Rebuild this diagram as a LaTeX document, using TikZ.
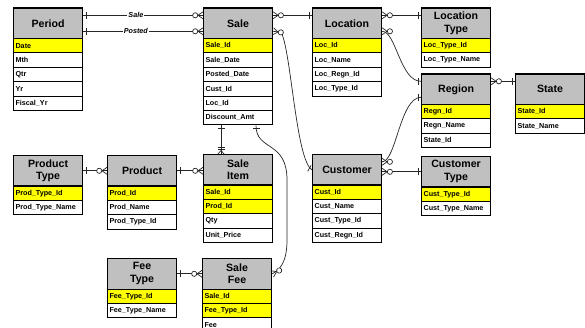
\documentclass[tikz,border=0pt]{standalone}
\usepackage{fontspec}
\setmainfont{Liberation Sans}
\usetikzlibrary{calc}
\definecolor{hdrgray}{HTML}{C0C0C0}
\definecolor{keyyel}{HTML}{FFFF00}
\tikzset{
 hdr/.style={draw=black, line width=1.1pt, fill=hdrgray, minimum width=69pt, minimum height=30.5pt, anchor=north west, inner sep=0pt, align=center, font=\bfseries\fontsize{10.6}{12.8}\selectfont},
 rowbase/.style={draw=black, line width=1.1pt, minimum width=69pt, minimum height=14.4pt, anchor=north west, inner xsep=2pt, inner ysep=0pt, text width=65pt, align=left, font=\bfseries\fontsize{7.2}{8}\selectfont},
 rel/.style={draw=black!85, line width=0.7pt},
 lbl/.style={fill=white, inner sep=1pt, font=\bfseries\itshape\fontsize{7.2}{8}\selectfont},
}
\newcommand\entity[5]{%
  \node[hdr] (#1) at (#2,#3) {#4};
  \foreach \fc/\tx [count=\i] in {#5} {
    \node[rowbase, fill=\fc] (#1-\i) at ({#2},{#3+30.5+14.4*(\i-1)}) {\tx};
  }
}
\newcommand\mone[2]{\begin{scope}[shift={#1},rotate=#2]\draw[rel] (3,-3.5)--(3,3.5);\end{scope}}
\newcommand\mmany[2]{\begin{scope}[shift={#1},rotate=#2]
 \draw[rel] (0,-3.5)--(5,0)--(0,3.5);
 \draw[rel,fill=white] (7.8,0) circle (2.6);
\end{scope}}
\newcommand\monemany[2]{\begin{scope}[shift={#1},rotate=#2]
 \draw[rel] (0,-3)--(3.5,0)--(0,3);
 \draw[rel] (4.5,-3.5)--(4.5,3.5);
 \draw[rel] (6.5,-3.5)--(6.5,3.5);
\end{scope}}
\begin{document}
\begin{tikzpicture}[x=1pt,y=-1pt]
\useasboundingbox (0,0) rectangle (585,328);
\clip (0,0) rectangle (585,328);
\entity{period}{13}{7.5}{Period}{keyyel/Date, white/Mth, white/Qtr, white/Yr, white/Fiscal\_Yr}
\entity{sale}{203}{7.5}{Sale}{keyyel/Sale\_Id, white/Sale\_Date, white/Posted\_Date, white/Cust\_Id, white/Loc\_Id, white/Discount\_Amt}
\entity{location}{312}{7.5}{Location}{keyyel/Loc\_Id, white/Loc\_Name, white/Loc\_Regn\_Id, white/Loc\_Type\_Id}
\entity{loctype}{421}{7.5}{Location\\Type}{keyyel/Loc\_Type\_Id, white/Loc\_Type\_Name}
\entity{region}{421}{73.5}{Region}{keyyel/Regn\_Id, white/Regn\_Name, white/State\_Id}
\entity{state}{515}{73.5}{State}{keyyel/State\_Id, white/State\_Name}
\entity{prodtype}{13}{155}{Product\\Type}{keyyel/Prod\_Type\_Id, white/Prod\_Type\_Name}
\entity{product}{107}{155}{Product}{keyyel/Prod\_Id, white/Prod\_Name, white/Prod\_Type\_Id}
\entity{saleitem}{203}{154}{Sale\\Item}{keyyel/Sale\_Id, keyyel/Prod\_Id, white/Qty, white/Unit\_Price}
\entity{customer}{312}{154}{Customer}{keyyel/Cust\_Id, white/Cust\_Name, white/Cust\_Type\_Id, white/Cust\_Regn\_Id}
\entity{custtype}{421}{156}{Customer\\Type}{keyyel/Cust\_Type\_Id, white/Cust\_Type\_Name}
\entity{feetype}{107}{258}{Fee\\Type}{keyyel/Fee\_Type\_Id, white/Fee\_Type\_Name}
\entity{salefee}{202}{258}{Sale\\Fee}{keyyel/Sale\_Id, keyyel/Fee\_Type\_Id, white/Fee}

% Period - Sale
\draw[rel] ($(period.east)+(0,-8)$) -- node[lbl,pos=0.44]{Sale} ($(sale.west)+(0,-8)$);
\draw[rel] ($(period.east)+(0,8)$) -- node[lbl,pos=0.44]{Posted} ($(sale.west)+(0,8)$);
\mone{($(period.east)+(0,-8)$)}{0}
\mone{($(period.east)+(0,8)$)}{0}
\mmany{($(sale.west)+(0,-8)$)}{180}
\mmany{($(sale.west)+(0,8)$)}{180}
% Sale - Location
\draw[rel] ($(sale.east)+(0,-8)$) -- ($(location.west)+(0,-8)$);
\mmany{($(sale.east)+(0,-8)$)}{0}
\mone{($(location.west)+(0,-8)$)}{180}
% Location - Location Type
\draw[rel] ($(location.east)+(0,-8)$) -- ($(loctype.west)+(0,-8)$);
\mmany{($(location.east)+(0,-8)$)}{0}
\mone{($(loctype.west)+(0,-8)$)}{180}
% Location - Region
\draw[rel] ($(location.east)+(0,8)$) .. controls +(14,0) and +(-21,0) .. ($(region.west)+(0,-8)$);
\mmany{($(location.east)+(0,8)$)}{0}
\mone{($(region.west)+(0,-8)$)}{180}
% Region - State
\draw[rel] ($(region.east)+(0,-8)$) -- ($(state.west)+(0,-8)$);
\mmany{($(region.east)+(0,-8)$)}{0}
\mone{($(state.west)+(0,-8)$)}{180}
% Customer - Region
\draw[rel] ($(customer.east)+(0,-8)$) .. controls +(14,0) and +(-21,0) .. ($(region.west)+(0,8)$);
\mmany{($(customer.east)+(0,-8)$)}{0}
\mone{($(region.west)+(0,8)$)}{180}
% Customer - Customer Type
\draw[rel] (customer.east |- custtype.west) -- (custtype.west);
\mmany{(customer.east |- custtype.west)}{0}
\mone{(custtype.west)}{180}
% Sale - Customer
\draw[rel] ($(sale.east)+(0,8)$) -- ++(8,1) .. controls +(10,18) and +(-16,-9) .. (customer.west);
\mmany{($(sale.east)+(0,8)$)}{-8}
\mone{(customer.west)}{150}
% Sale - Sale Fee
\draw[rel] ($(sale-6.south west)+(53,0)$) .. controls +(0,26) and (287,140) .. (287,180) -- (287,240) .. controls (287,262) and +(8,-4) .. (salefee.east);
\mone{($(sale-6.south west)+(53,0)$)}{-90}
\mmany{(salefee.east)}{25}
% Sale - Sale Item
\draw[rel] ($(sale-6.south west)+(18,0)$) -- ($(saleitem.north west)+(18,0)$);
\mone{($(sale-6.south west)+(18,0)$)}{-90}
\monemany{($(saleitem.north west)+(18,0)$)}{90}
% Product Type - Product
\draw[rel] (prodtype.east) -- (product.west);
\mone{(prodtype.east)}{0}
\mmany{(product.west)}{180}
% Product - Sale Item
\draw[rel] (product.east) -- (product.east -| saleitem.west);
\mone{(product.east)}{0}
\mmany{(product.east -| saleitem.west)}{180}
% Fee Type - Sale Fee
\draw[rel] (feetype.east) -- (salefee.west);
\mone{(feetype.east)}{0}
\mmany{(salefee.west)}{180}
\end{tikzpicture}
\end{document}
